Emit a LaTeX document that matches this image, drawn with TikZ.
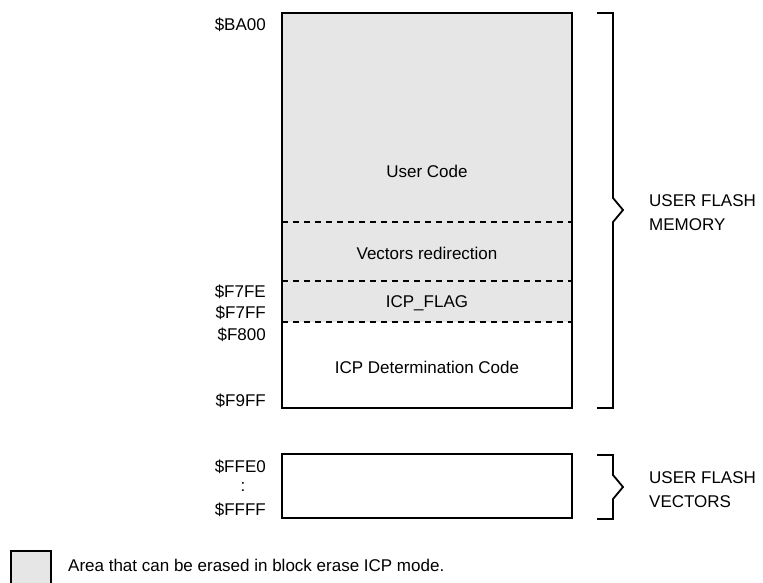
\documentclass[tikz,border=0pt]{standalone}
\usepackage{fontspec}
\setmainfont{Liberation Sans}
\begin{document}
\begin{tikzpicture}[x=1pt,y=-1pt,
  boxline/.style={line width=2pt},
  divline/.style={line width=1.5pt,dash pattern=on 6pt off 5pt},
  brace/.style={line width=1.8pt},
  lbl/.style={inner sep=0pt,anchor=base,font=\fontsize{17}{20}\selectfont},
  addr/.style={inner sep=0pt,anchor=base east,font=\fontsize{17}{20}\selectfont},
  side/.style={inner sep=0pt,anchor=base west,font=\fontsize{17}{20}\selectfont}]
\useasboundingbox (0,0) rectangle (763,583);
\clip (0,0) rectangle (763,583);
\definecolor{erasegray}{RGB}{230,230,230}
% main memory box
\fill[erasegray] (282,13) rectangle (572,322);
\draw[divline] (282,222) -- (572,222);
\draw[divline] (282,281) -- (572,281);
\draw[divline] (282,322) -- (572,322);
\draw[boxline] (282,13) rectangle (572,408);
\node[lbl] (uc) at (427,177) {User Code};
\node[lbl] (vr) at (427,259) {Vectors redirection};
\node[lbl] (flag) at (427,307) {ICP\_FLAG};
\node[lbl] (det) at (427,373.5) {ICP Determination Code};
% addresses
\node[addr] (a1) at (266,30.5) {\$BA00};
\node[addr] (a2) at (266,297) {\$F7FE};
\node[addr] (a3) at (266,318.5) {\$F7FF};
\node[addr] (a4) at (266,340) {\$F800};
\node[addr] (a5) at (266,406) {\$F9FF};
% vectors box
\draw[boxline] (282,454) rectangle (572,518);
\node[addr] (a6) at (266,472.5) {\$FFE0};
\node[lbl] (dots) at (243,491) {:};
\node[addr] (a7) at (266,515) {\$FFFF};
% braces
\draw[brace] (597,13) -- (613,13) -- (613,198) -- (623,210) -- (613,222) -- (613,408) -- (597,408);
\node[side] (m1) at (649,206) {USER FLASH};
\node[side] (m2) at (649,230) {MEMORY};
\draw[brace] (597,455) -- (613,455) -- (613,475) -- (623,487) -- (613,499) -- (613,519) -- (597,519);
\node[side] (v1) at (649,483) {USER FLASH};
\node[side] (v2) at (649,507) {VECTORS};
% legend
\filldraw[fill=erasegray,draw=black,boxline] (11,551) rectangle (51,592);
\node[side] (leg) at (68,571) {Area that can be erased in block erase ICP mode.};
\end{tikzpicture}
\end{document}
